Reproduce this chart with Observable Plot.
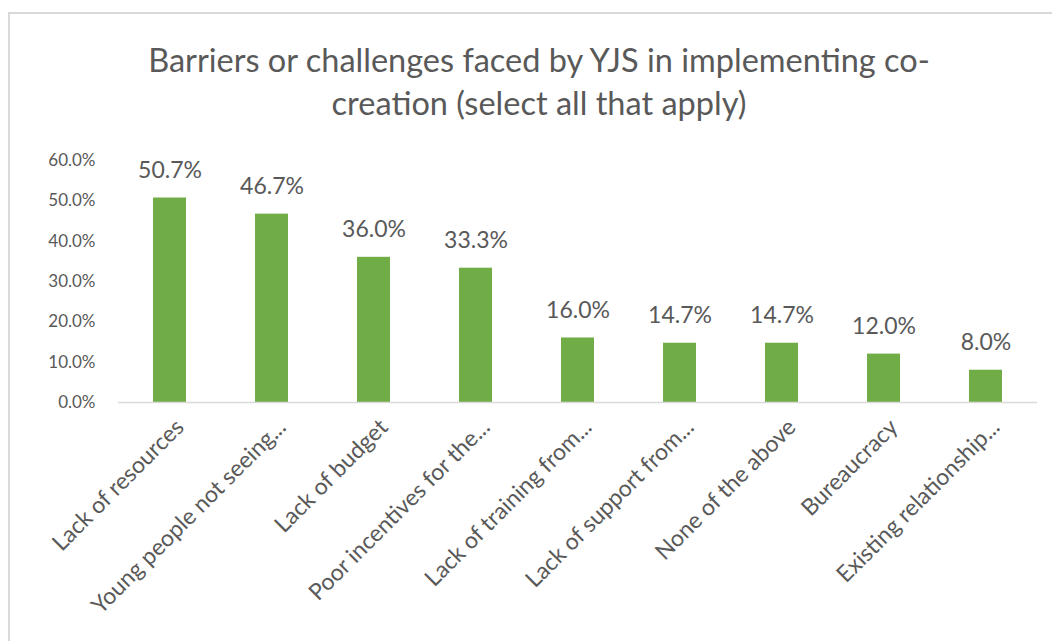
<!DOCTYPE html>
<html>
<head>
<meta charset="utf-8">
<script src="https://cdn.jsdelivr.net/npm/d3@7"></script>
<script src="https://cdn.jsdelivr.net/npm/@observablehq/plot@0.6"></script>
<style>
  html, body { margin: 0; padding: 0; background: #fff; }
  body { width: 1052px; height: 641px; position: relative; overflow: hidden; font-family: Lato, "Open Sans", sans-serif; }
  #frame { position: absolute; left: 8px; top: 12px; width: 1100px; height: 700px; border-left: 2px solid #d9d9d9; border-top: 2px solid #d9d9d9; }
  #title { position: absolute; left: 0; top: 38px; width: 1078px; text-align: center; font-size: 32.5px; line-height: 43px; color: #595959; }
  #chart { position: absolute; left: 0; top: 140px; }
</style>
</head>
<body>
<div id="frame"></div>
<div id="title">Barriers or challenges faced by YJS in implementing co-<br>creation (select all that apply)</div>
<div id="chart"></div>
<script>
const categories = [
  "Lack of resources",
  "Young people not seeing...",
  "Lack of budget",
  "Poor incentives for the...",
  "Lack of training from...",
  "Lack of support from...",
  "None of the above",
  "Bureaucracy",
  "Existing relationship..."
];
const values = [0.507, 0.467, 0.360, 0.333, 0.160, 0.147, 0.147, 0.120, 0.080];
const yTicks = [0, 0.1, 0.2, 0.3, 0.4, 0.5, 0.6];

const data = categories.map((c, i) => ({category: c, value: values[i]}));
const fmt = d3.format(".1%");

const chart = Plot.plot({
  width: 1052,
  height: 501,
  marginLeft: 118,
  marginRight: 15,
  marginTop: 20,
  marginBottom: 239,
  style: {fontFamily: "Lato, 'Open Sans', sans-serif", color: "#595959", background: "transparent"},
  x: {domain: categories, paddingInner: 0.68, paddingOuter: 0.34, label: null},
  y: {domain: [0, 0.6], label: null},
  marks: [
    Plot.axisY({ticks: yTicks, tickFormat: fmt, tickSize: 0, tickPadding: 23, fontSize: 17, fill: "#595959"}),
    Plot.axisX({tickSize: 0, tickRotate: -45, tickPadding: 0, fontSize: 23, fill: "#595959", textAnchor: "end", dx: 10, dy: 21}),
    Plot.barY(data, {x: "category", y: "value", fill: "#70ad47"}),
    Plot.ruleY([0], {stroke: "#d9d9d9", strokeWidth: 1.5}),
    Plot.text(data, {x: "category", y: "value", text: d => fmt(d.value), lineAnchor: "bottom", dy: -20, fontSize: 23, fill: "#595959"})
  ]
});
document.getElementById("chart").appendChild(chart);
</script>
</body>
</html>
